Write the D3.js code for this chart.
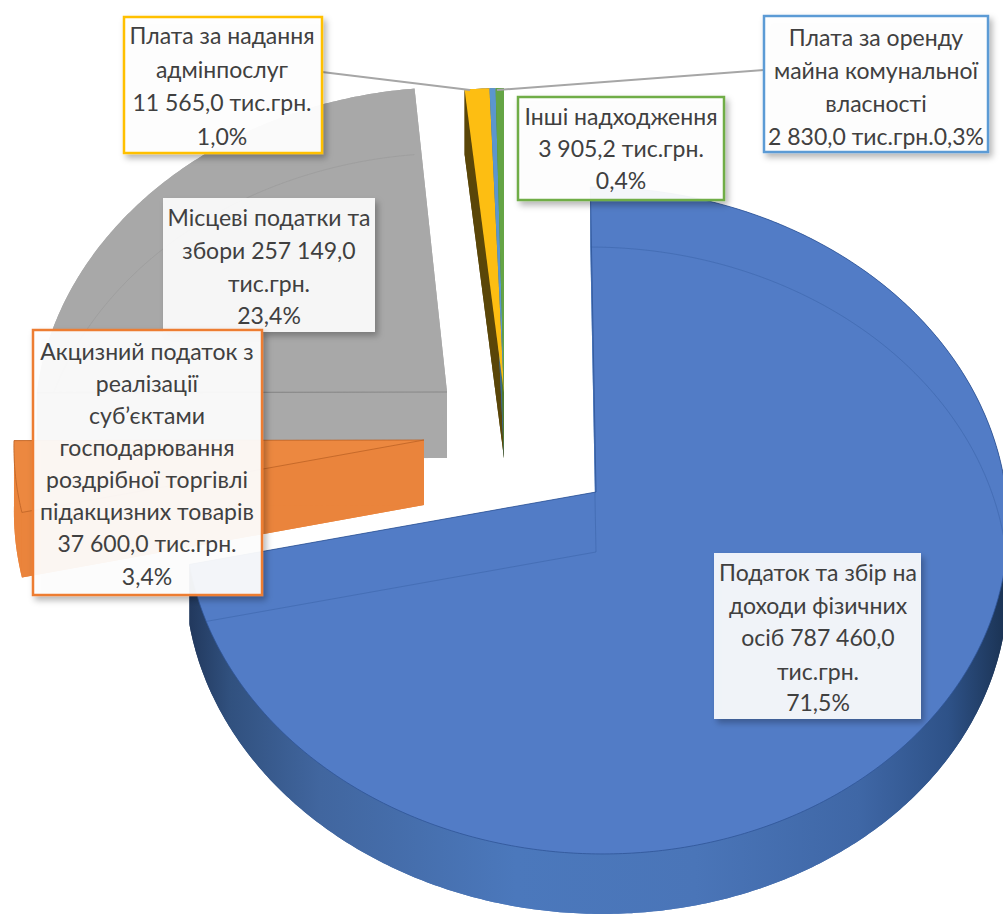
<!DOCTYPE html>
<html><head><meta charset="utf-8">
<script src="https://cdn.jsdelivr.net/npm/d3@7/dist/d3.min.js"></script>
<style>html,body{margin:0;padding:0;background:#fff}svg{display:block}</style>
</head><body><svg id="c" width="1003" height="917"></svg>
<script>
// ---- data ----
const categories = ["Податок та збір на доходи фізичних осіб","Акцизний податок","Місцеві податки та збори","Плата за надання адмінпослуг","Плата за оренду майна","Інші надходження"];
const values = [787460.0, 37600.0, 257149.0, 11565.0, 2830.0, 3905.2];
const labelLines = [
 ["Податок та збір на","доходи фізичних","осіб  787 460,0","тис.грн.","71,5%"],
 ["Акцизний податок з","реалізації","суб’єктами","господарювання","роздрібної торгівлі","підакцизних товарів","37 600,0 тис.грн.","3,4%"],
 ["Місцеві податки та","збори 257 149,0","тис.грн.","23,4%"],
 ["Плата за надання","адмінпослуг","11 565,0 тис.грн.","1,0%"],
 ["Плата за оренду","майна комунальної","власності","2 830,0 тис.грн.0,3%"],
 ["Інші надходження","3 905,2 тис.грн.","0,4%"]
];
// ---- styles / layout ----
const topColors  = ["#527cc6","#ec8840","#a8a8a8","#fdbe12","#5b96cf","#65a545"];
const wallColors = ["url(#bw)","#ea843c","#a9a9a9","#5a4608","#3d6a8c","#4f7a2c"];
const edgeColors = ["#2f5597","#bd6326","#8a8a8a","#8a6a08","#3d6a8c","#4f7a2c"];
const apex = [[596,492],[424,440],[447,392],[504,393],[504,393],[504,393]];
const shear = [-0.015,-0.065,0.0185,0,0,0];
const thick = [60,65,66,65,65,65];
const boxes = [
 {x:714,y:553,w:207,h:166,ys:[573,606,638,672,703],fill:"rgba(255,255,255,.9)",stroke:"none",cx:818},
 {x:33,y:330,w:229,h:265,ys:[352,384,416,448,480,512,544,577],fill:"rgba(255,255,255,.92)",stroke:"#ed7d31",cx:147},
 {x:163,y:198,w:212,h:134,ys:[218,251,284,316],fill:"rgba(255,255,255,.9)",stroke:"none",cx:269},
 {x:124,y:17,w:198,h:136,ys:[36,70,103,137],fill:"rgba(255,255,255,.95)",stroke:"#ffc000",cx:222},
 {x:764,y:16,w:224,h:136,ys:[38,71,104,137],fill:"rgba(255,255,255,.95)",stroke:"#5b9bd5",cx:876},
 {x:518,y:97,w:206,h:103,ys:[117,149,181],fill:"rgba(255,255,255,.93)",stroke:"#70ad47",cx:621}
];
const leaders = [[[322,72],[470,90]],[[764,70],[497,90]]];
const Rx=410, Ry=331, k=0.0855;
const renderOrder=[2,3,4,5,1,0];

const svg=d3.select("#c");
const defs=svg.append("defs");
const g=defs.append("linearGradient").attr("id","bw").attr("gradientUnits","userSpaceOnUse")
  .attr("x1",190).attr("x2",1005).attr("y1",0).attr("y2",0);
[[0,"#22395e"],[.05,"#31517f"],[.16,"#41669f"],[.4,"#4b78bc"],[.62,"#4a75b8"],[.82,"#3f67a6"],[.93,"#2e5288"],[1,"#1b3354"]]
 .forEach(s=>g.append("stop").attr("offset",s[0]).attr("stop-color",s[1]));
const f=defs.append("filter").attr("id","sh").attr("x","-10%").attr("y","-10%").attr("width","125%").attr("height","125%");
f.append("feDropShadow").attr("dx",3).attr("dy",4).attr("stdDeviation",3).attr("flood-color","#000").attr("flood-opacity",.3);

const arcs=d3.pie().sort(null).startAngle(0).endAngle(2*Math.PI)(values);
const line=d3.line();
function project(i,theta,r,dy){
  const u=r*Math.sin(theta), v=r*Math.cos(theta), w=1+k*v;
  return [apex[i][0]+Rx*(u+shear[i]*v)/w, apex[i][1]-Ry*v/w+(dy||0)];
}
function arcPts(i,a,dy){
  const n=Math.max(2,Math.ceil((a.endAngle-a.startAngle)/0.01));
  return d3.range(n+1).map(j=>project(i,a.startAngle+(a.endAngle-a.startAngle)*j/n,1,dy));
}
function face(i,a,dy){ return line([project(i,0,0,dy),...arcPts(i,a,dy)])+"Z"; }

// walls
renderOrder.forEach(i=>{
  const a=arcs[i], t=thick[i], gg=svg.append("g");
  const top=arcPts(i,a,0), bot=arcPts(i,a,t), c0=project(i,0,0,0), c1=project(i,0,0,t);
  gg.append("path").attr("d",face(i,a,t)).attr("fill",wallColors[i]);
  gg.append("path").attr("d",line([...top,...bot.slice().reverse()])+"Z").attr("fill",wallColors[i]);
  gg.append("path").attr("d",line([c0,top[0],bot[0],c1])+"Z").attr("fill",wallColors[i]);
  const m=top.length-1;
  gg.append("path").attr("d",line([c0,top[m],bot[m],c1])+"Z").attr("fill",wallColors[i]);
});
// top faces and see-through lines
renderOrder.forEach(i=>{
  const a=arcs[i];
  defs.append("clipPath").attr("id","cl"+i).append("path").attr("d",face(i,a,0));
  svg.append("path").attr("d",face(i,a,0)).attr("fill",topColors[i])
    .attr("stroke",edgeColors[i]).attr("stroke-width",i<2?1:0).attr("stroke-opacity",.8);
  if(i===2){
    const pts=arcPts(i,a,0);
    svg.append("path").attr("d",line([project(i,0,0,0),pts[0]])).attr("stroke",edgeColors[i]).attr("stroke-width",1.2);
    svg.append("path").attr("d",line(arcPts(i,a,thick[i]))).attr("fill","none")
      .attr("stroke",edgeColors[i]).attr("stroke-opacity",.3).attr("clip-path","url(#cl"+i+")");
  }
  if(i===0) svg.append("path").attr("d",face(i,a,thick[i])).attr("fill","none")
    .attr("stroke",edgeColors[i]).attr("stroke-opacity",.35).attr("stroke-width",1)
    .attr("clip-path","url(#cl"+i+")");
});
// leader lines
leaders.forEach(l=>svg.append("path").attr("d",line(l)).attr("fill","none").attr("stroke","#a6a6a6").attr("stroke-width",2));
// labels
[0,2,1,3,4,5].forEach(i=>{
  const b=boxes[i], sw=b.stroke==="none"?0:2.5;
  svg.append("rect").attr("x",b.x).attr("y",b.y).attr("width",b.w).attr("height",b.h)
    .attr("fill",b.fill).attr("stroke",b.stroke).attr("stroke-width",sw).attr("filter","url(#sh)");
  labelLines[i].forEach((s,j)=>svg.append("text").attr("x",b.cx).attr("y",b.ys[j]).attr("dy","0.35em")
    .attr("text-anchor","middle").attr("fill","#404040")
    .style("font-family","Lato,'Open Sans',sans-serif").style("font-size","23px").text(s));
});
</script></body></html>
